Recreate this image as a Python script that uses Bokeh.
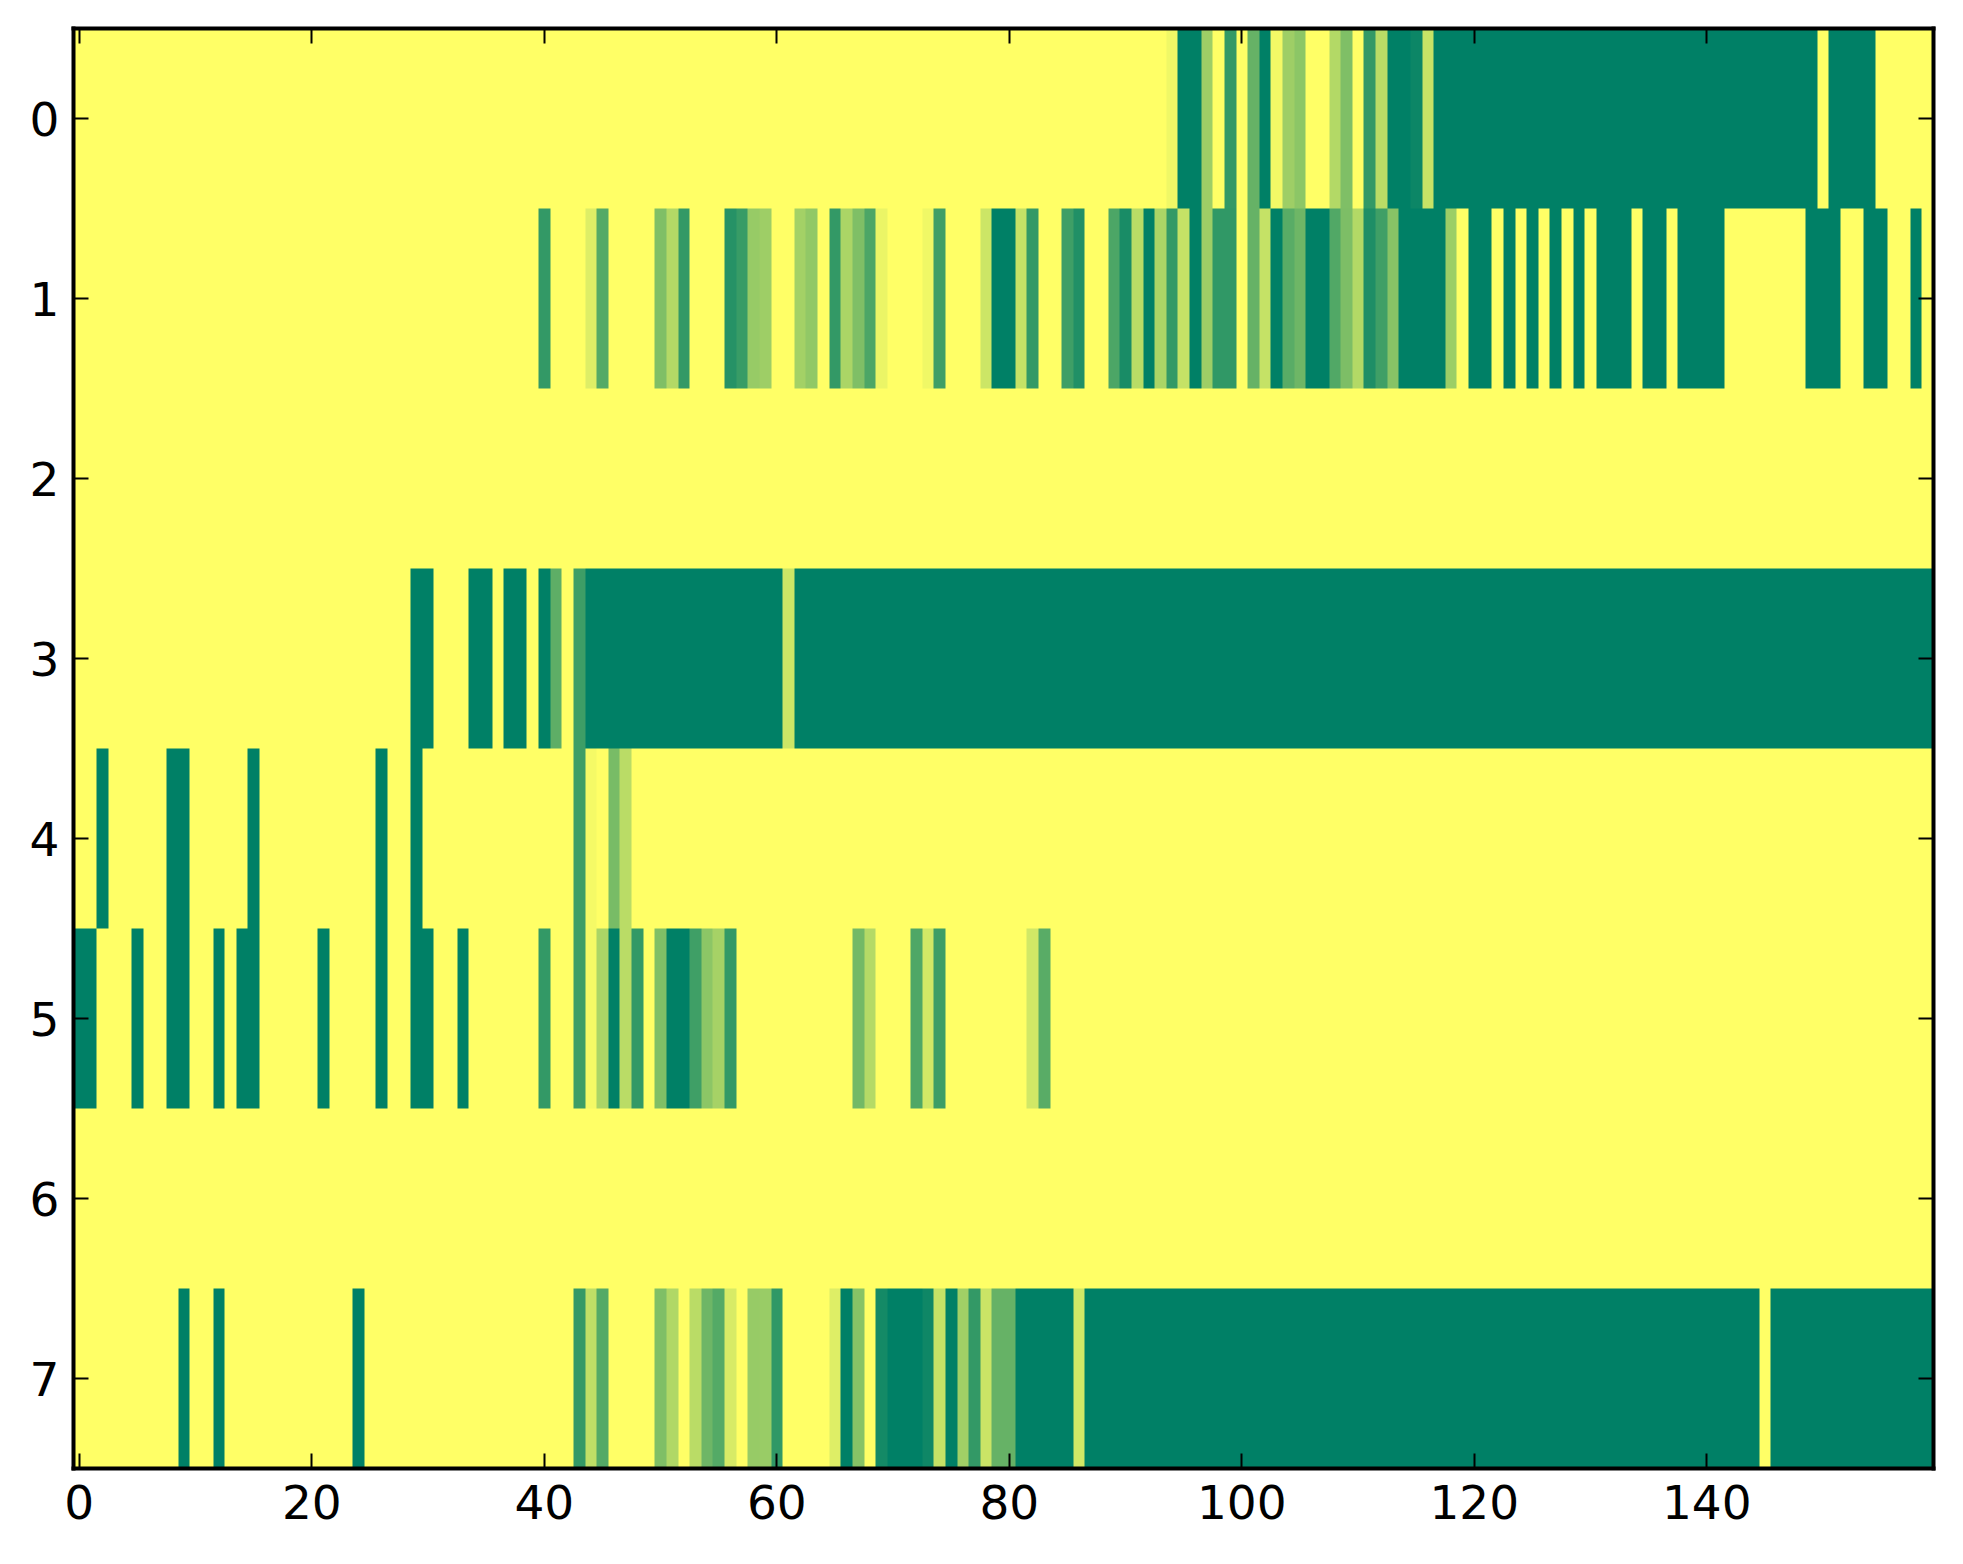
import numpy as np
from bokeh.embed import file_html
from bokeh.resources import INLINE
from bokeh.plotting import figure
from bokeh.models import Range1d, LinearAxis, LinearColorMapper, FixedTicker

x_ticks = [0, 20, 40, 60, 80, 100, 120, 140]
y_ticks = [0, 1, 2, 3, 4, 5, 6, 7]

row0 = ([0]*94 + [.06, 1, 1, .38, 0, .8, 0, .6, 1, .05, .38, .45, 0, 0, .3, .5, 0, .8, .27, 1, 1, .95, .22]
        + [1]*33 + [0] + [1]*4 + [0]*5)
row1 = ([0]*40 + [.8, 0, 0, 0, .13, .67, 0, 0, 0, 0, .5, .3, .8, 0, 0, 0, .85, .78, .41, .38, 0, 0, .36, .43, 0,
                  .8, .33, .5, .7, .08, 0, 0, 0, .06, .75, 0, 0, 0, .2, 1, 1, .23, .8, 0, 0, .75, .87, 0, 0,
                  .7, .9, .28, 1, .33, .8, .23, 1, .38, .81, .81, 0, .6, .23, 1, .65, .57, 1, 1, .68, .51, .3,
                  .88, .75, .47, 1, 1, 1, 1, .39, 0, 1, 1, 0, 1, 0, 1, 0, 1, 0, 1, 0, 1, 1, 1, 0, 1, 1, 0,
                  1, 1, 1, 1] + [0]*7 + [1, 1, 1, 0, 0, 1, 1, 0, 0, 1, 0])
row2 = [0]*160
row3 = ([0]*29 + [1, 1, 0, 0, 0, 1, 1, 0, 1, 1, 0, 1, .63, 0, .76] + [1]*17 + [.2] + [1]*98)
row4 = ([0, 0, 1] + [0]*5 + [1, 1] + [0]*5 + [1] + [0]*10 + [1, 0, 0, 1] + [0]*13
        + [.76, .04, 0, .53, .27] + [0]*112)
row5 = ([1, 1, 0, 0, 0, 1, 0, 0, 1, 1, 0, 0, 1, 0, 1, 1] + [0]*5 + [1] + [0]*4 + [1, 0, 0, 1, 1, 0, 0, 1]
        + [0]*6 + [.8, 0, 0, .76, .04, .33, 1, .27, .8, 0, .5, 1, 1, .75, .45, .35, .8] + [0]*10
        + [.55, .29, 0, 0, 0, .69, .18, .76] + [0]*7 + [.18, .65] + [0]*76)
row6 = [0]*160
row7 = ([0]*9 + [1, 0, 0, 1] + [0]*11 + [1] + [0]*18
        + [.8, .25, .67, 0, 0, 0, 0, .5, .31, 0, .27, .57, .67, .16, 0, .41, .4, .81, 0, 0, 0, 0,
           .13, 1, .47, 0, .92, 1, 1, 1, .94, .23, 1, .37, .8, .21, .6, .6, 1, 1, 1, 1, 1, .18]
        + [1]*58 + [0] + [1]*14)

rows = [row0, row1, row2, row3, row4, row5, row6, row7]
for r in rows:
    assert len(r) == 160, len(r)

# reversed "summer" colour ramp: 0 = yellow, 1 = green
palette = []
for i in range(256):
    v = i / 255
    palette.append("#%02x%02x%02x" % (round(255 * (1 - v)), round(255 * (1 - v / 2)), 102))
mapper = LinearColorMapper(palette=palette, low=0, high=1)

p = figure(width=1955, height=1556, output_backend="svg", toolbar_location=None,
           x_range=Range1d(-0.5, 159.5), y_range=Range1d(7.5, -0.5),
           x_axis_location="below", y_axis_location="left",
           min_border_left=73, min_border_right=22, min_border_top=28, min_border_bottom=88)
p.background_fill_color = "#ffff66"
p.border_fill_color = "white"
p.grid.visible = False
p.outline_line_color = None

data = np.array(rows, dtype=float)
p.image(image=[data], x=-0.5, y=-0.5, dw=160, dh=8, color_mapper=mapper)

bottom = p.below[0]
left = p.left[0]
top = LinearAxis()
right = LinearAxis()
p.add_layout(top, "above")
p.add_layout(right, "right")

for ax, ticks in [(bottom, x_ticks), (top, x_ticks), (left, y_ticks), (right, y_ticks)]:
    ax.ticker = FixedTicker(ticks=ticks)
    ax.axis_line_color = "black"
    ax.axis_line_width = 4
    ax.axis_line_cap = "square"
    ax.major_tick_in = 15
    ax.major_tick_out = 0
    ax.major_tick_line_width = 2
    ax.major_tick_line_color = "black"
    ax.minor_tick_line_color = None
    ax.major_label_text_font = "DejaVu Sans"
    ax.major_label_text_font_size = "47px"
    ax.major_label_text_color = "black"

for ax in (top, right):
    ax.major_label_text_font_size = "0px"
    ax.major_label_standoff = 0
    ax.major_label_text_color = None

bottom.major_label_standoff = 16
left.major_label_standoff = 14

open("out.html", "w").write(file_html(p, INLINE))
